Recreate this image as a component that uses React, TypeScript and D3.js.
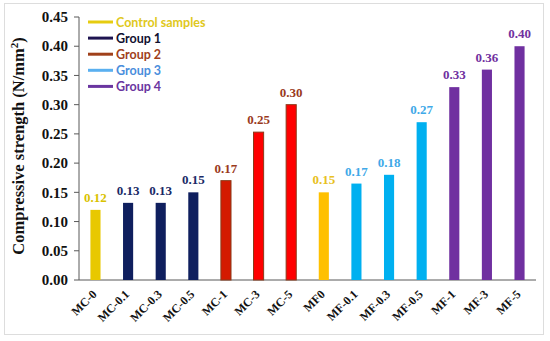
import React from "react";
import * as d3 from "d3";

const categories = ["MC-0", "MC-0.1", "MC-0.3", "MC-0.5", "MC-1", "MC-3", "MC-5", "MF0", "MF-0.1", "MF-0.3", "MF-0.5", "MF-1", "MF-3", "MF-5"];
const values = [0.12, 0.132, 0.132, 0.15, 0.17, 0.253, 0.3, 0.15, 0.165, 0.18, 0.27, 0.33, 0.36, 0.4];
const valueLabels = ["0.12", "0.13", "0.13", "0.15", "0.17", "0.25", "0.30", "0.15", "0.17", "0.18", "0.27", "0.33", "0.36", "0.40"];
const groups = [0, 1, 1, 1, 2, 2, 2, 0, 3, 3, 3, 4, 4, 4];
const yTicks = [0, 0.05, 0.1, 0.15, 0.2, 0.25, 0.3, 0.35, 0.4, 0.45];
const legendNames = ["Control samples", "Group 1", "Group 2", "Group 3", "Group 4"];

const barFills = ["#E8C800", "#0F1F5E", "#FF0000", "#00B0F0", "#7030A0"];
const labelColors = ["#D9C200", "#1A2A66", "#9A3A1C", "#3FA9E8", "#7030A0"];
const legendLineColors = ["#E6CC10", "#1E1450", "#A0401A", "#5AB0F0", "#6A35A0"];
const legendTextColors = ["#E0C820", "#101030", "#A0401A", "#4A8EDC", "#6A35A0"];

export default function App() {
  const W = 550, H = 341;
  const x0 = 79, x1 = 536, yTop = 17, yBot = 280;
  const x = d3.scaleBand<string>().domain(categories).range([x0, x1]).paddingInner(0.69).paddingOuter(0.35);
  const y = d3.scaleLinear().domain([0, 0.45]).range([yBot, yTop]);
  const bw = x.bandwidth();
  const serif = "'Liberation Serif', 'Times New Roman', serif";
  const sans = "Lato, 'Noto Sans', sans-serif";

  const barFill = (i: number) => {
    if (categories[i] === "MC-1") return "#D41A00";
    if (categories[i] === "MF0") return "#FFC000";
    return barFills[groups[i]];
  };

  return (
    <svg width={W} height={H} style={{ position: "absolute", left: 0, top: 0 }}>
      <rect x={0} y={0} width={W} height={H} fill="#ffffff" />
      <rect x={4.5} y={3.5} width={539} height={331} fill="none" stroke="#DDDDDD" strokeWidth={1} />
      <line x1={x0} x2={x0} y1={yTop} y2={yBot} stroke="#595959" strokeWidth={1} />
      <line x1={x0} x2={x1} y1={yBot} y2={yBot} stroke="#595959" strokeWidth={1} />
      {yTicks.map((t) => (
        <g key={t}>
          <line x1={x0 - 5} x2={x0} y1={y(t)} y2={y(t)} stroke="#595959" strokeWidth={1} />
          <text x={68} y={y(t)} dy="0.35em" textAnchor="end" fontFamily={serif} fontWeight="bold" fontSize={15} fill="#111">
            {t.toFixed(2)}
          </text>
        </g>
      ))}
      <text
        transform={`translate(24,${146}) rotate(-90)`}
        textAnchor="middle"
        fontFamily={serif}
        fontWeight="bold"
        fontSize={16.5}
        fill="#111"
      >
        Compressive strength (N/mm<tspan dy="-6" fontSize={11}>2</tspan><tspan dy="6">)</tspan>
      </text>
      {categories.map((c, i) => {
        const bx = x(c)!;
        const isRed = groups[i] === 2;
        return (
          <g key={c}>
            <rect
              x={bx}
              y={y(values[i])}
              width={bw}
              height={yBot - y(values[i])}
              fill={barFill(i)}
              stroke={isRed ? "#8B3A1A" : "none"}
              strokeWidth={isRed ? 1 : 0}
            />
            <text
              x={bx + bw / 2}
              y={y(values[i]) - 8}
              textAnchor="middle"
              fontFamily={serif}
              fontWeight="bold"
              fontSize={13}
              fill={categories[i] === "MF0" ? "#E8C020" : labelColors[groups[i]]}
            >
              {valueLabels[i]}
            </text>
            <text
              transform={`translate(${bx + bw / 2 - 1},${yBot + 12}) rotate(-45)`}
              textAnchor="end"
              dy="0.35em"
              fontFamily={serif}
              fontWeight="bold"
              fontSize={12}
              fill="#111"
            >
              {c}
            </text>
          </g>
        );
      })}
      {legendNames.map((n, i) => {
        const ly = 22 + i * 16.1;
        return (
          <g key={n}>
            <line x1={88} x2={113} y1={ly} y2={ly} stroke={legendLineColors[i]} strokeWidth={3} />
            <text x={116} y={ly} dy="0.36em" fontFamily={sans} fontWeight="bold" fontSize={12.5} fill={legendTextColors[i]}>
              {n}
            </text>
          </g>
        );
      })}
    </svg>
  );
}
